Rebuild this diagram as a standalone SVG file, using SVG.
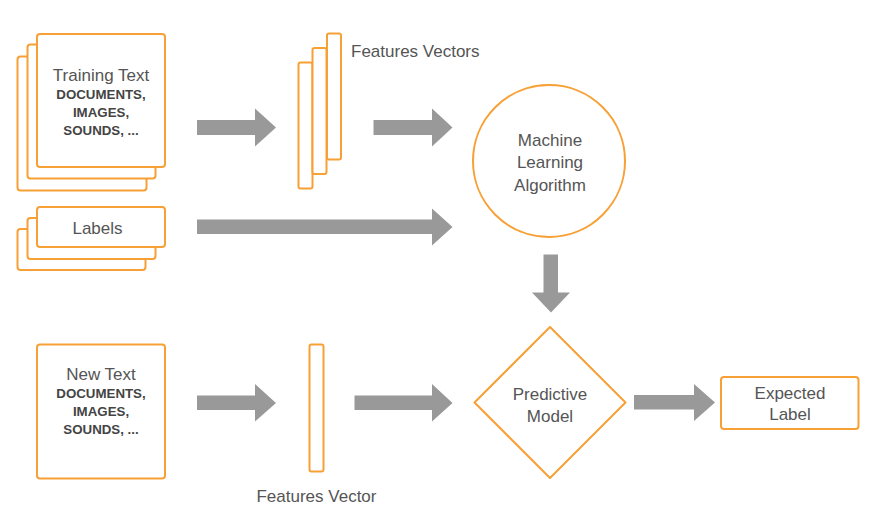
<svg xmlns="http://www.w3.org/2000/svg" width="887" height="519" viewBox="0 0 887 519">
<style>
.box{fill:#fff;stroke:#f7a035;stroke-width:2}
.t{font-family:"Liberation Sans",Arial,sans-serif;font-size:17px;fill:#555;text-anchor:middle}
.b{font-family:"Liberation Sans",Arial,sans-serif;font-size:13.3px;font-weight:bold;fill:#444;text-anchor:middle}
.arr{fill:#999}
</style>
<rect width="887" height="519" fill="#fff"/>
<g id="training-text">
<rect class="box" x="17.5" y="56.5" width="129" height="134" rx="3"/>
<rect class="box" x="27.5" y="44.5" width="128" height="134" rx="3"/>
<rect class="box" x="37" y="34" width="128" height="133" rx="3"/>
<text class="t" x="101" y="81">Training Text</text>
<text class="b" x="101" y="98.5">DOCUMENTS,</text>
<text class="b" x="101" y="116.5">IMAGES,</text>
<text class="b" x="101" y="134.5">SOUNDS, ...</text>
</g>
<g id="labels">
<rect class="box" x="17.5" y="229" width="128" height="41" rx="3"/>
<rect class="box" x="27.5" y="218" width="128" height="41" rx="3"/>
<rect class="box" x="37" y="207" width="128" height="40" rx="3"/>
<text class="t" x="97.5" y="233.5">Labels</text>
</g>
<g id="features-vectors">
<rect class="box" x="298.5" y="62.5" width="14" height="126" rx="2"/>
<rect class="box" x="312.5" y="48" width="14" height="126" rx="2"/>
<rect class="box" x="327" y="33.5" width="14" height="126" rx="2"/>
<text class="t" x="351" y="57" style="text-anchor:start">Features Vectors</text>
</g>
<g id="ml-algorithm">
<circle class="box" cx="549" cy="161" r="76"/>
<text class="t" x="550" y="146">Machine</text>
<text class="t" x="550" y="168">Learning</text>
<text class="t" x="550" y="190.5">Algorithm</text>
</g>
<g id="new-text">
<rect class="box" x="37" y="344.5" width="128" height="134" rx="3"/>
<text class="t" x="101" y="380">New Text</text>
<text class="b" x="101" y="398">DOCUMENTS,</text>
<text class="b" x="101" y="415.5">IMAGES,</text>
<text class="b" x="101" y="434">SOUNDS, ...</text>
</g>
<g id="features-vector">
<rect class="box" x="309.5" y="344.5" width="14" height="127" rx="2"/>
<text class="t" x="316.5" y="501.5">Features Vector</text>
</g>
<g id="predictive-model">
<path class="box" d="M550,327 L625.5,402.5 L550,478 L474.5,402.5 Z" stroke-linejoin="round"/>
<text class="t" x="550" y="400">Predictive</text>
<text class="t" x="550" y="421.5">Model</text>
</g>
<g id="expected-label">
<rect class="box" x="721" y="377" width="137.5" height="52" rx="3"/>
<text class="t" x="790" y="398.5">Expected</text>
<text class="t" x="790" y="420">Label</text>
</g>
<g id="connectors">
<path class="arr" d="M197,120 H255 V108.5 L276,127.5 L255,146.5 V135 H197 Z"/>
<path class="arr" d="M373.5,120 H432 V108.5 L452.5,127.5 L432,146.5 V135 H373.5 Z"/>
<path class="arr" d="M197,219.5 H432 V208.5 L452.5,227 L432,245.5 V234 H197 Z"/>
<path class="arr" d="M543.5,254.5 V292.5 H532 L551,312.5 L570,292.5 H558 V254.5 Z"/>
<path class="arr" d="M197,395.5 H255 V384 L276,403 L255,421.5 V410 H197 Z"/>
<path class="arr" d="M354.5,395.5 H432 V384 L452.5,403 L432,421.5 V410 H354.5 Z"/>
<path class="arr" d="M634,395 H694 V384 L715,402.5 L694,421 V409.5 H634 Z"/>
</g>
</svg>
